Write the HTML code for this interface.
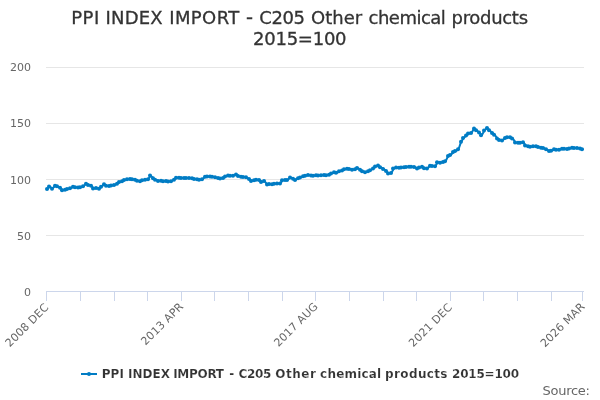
<!DOCTYPE html>
<html><head><meta charset="utf-8"><title>chart</title>
<style>
html,body{margin:0;padding:0;background:#fff;}
body{width:600px;height:400px;overflow:hidden;}
svg{display:block;font-family:"DejaVu Sans","Liberation Sans",sans-serif;}
</style></head><body>
<svg width="600" height="400" viewBox="0 0 600 400">
<rect x="0" y="0" width="600" height="400" fill="#FFFFFF"/>
<g class="grid"><path d="M 46 67.5 L 584 67.5" stroke="#E6E6E6" stroke-width="1"/><path d="M 46 123.5 L 584 123.5" stroke="#E6E6E6" stroke-width="1"/><path d="M 46 179.5 L 584 179.5" stroke="#E6E6E6" stroke-width="1"/><path d="M 46 235.5 L 584 235.5" stroke="#E6E6E6" stroke-width="1"/></g>
<g class="xaxis"><path d="M 46 291.5 L 584 291.5" stroke="#CCD6EB" stroke-width="1"/><path d="M 46.5 291 L 46.5 301" stroke="#CCD6EB" stroke-width="1"/><path d="M 80.5 291 L 80.5 301" stroke="#CCD6EB" stroke-width="1"/><path d="M 114.5 291 L 114.5 301" stroke="#CCD6EB" stroke-width="1"/><path d="M 147.5 291 L 147.5 301" stroke="#CCD6EB" stroke-width="1"/><path d="M 181.5 291 L 181.5 301" stroke="#CCD6EB" stroke-width="1"/><path d="M 214.5 291 L 214.5 301" stroke="#CCD6EB" stroke-width="1"/><path d="M 248.5 291 L 248.5 301" stroke="#CCD6EB" stroke-width="1"/><path d="M 282.5 291 L 282.5 301" stroke="#CCD6EB" stroke-width="1"/><path d="M 315.5 291 L 315.5 301" stroke="#CCD6EB" stroke-width="1"/><path d="M 349.5 291 L 349.5 301" stroke="#CCD6EB" stroke-width="1"/><path d="M 383.5 291 L 383.5 301" stroke="#CCD6EB" stroke-width="1"/><path d="M 416.5 291 L 416.5 301" stroke="#CCD6EB" stroke-width="1"/><path d="M 450.5 291 L 450.5 301" stroke="#CCD6EB" stroke-width="1"/><path d="M 483.5 291 L 483.5 301" stroke="#CCD6EB" stroke-width="1"/><path d="M 517.5 291 L 517.5 301" stroke="#CCD6EB" stroke-width="1"/><path d="M 551.5 291 L 551.5 301" stroke="#CCD6EB" stroke-width="1"/><path d="M 582.5 291 L 582.5 301" stroke="#CCD6EB" stroke-width="1"/></g>
<g class="series"><path d="M 47.29 188.90 L 49.88 186.60 L 52.47 188.70 L 55.05 185.80 L 57.64 186.30 L 60.23 187.80 L 62.81 190.20 L 65.40 189.70 L 67.99 188.90 L 70.57 188.25 L 73.16 186.80 L 75.75 187.25 L 78.33 187.40 L 80.92 187.25 L 83.50 186.30 L 86.09 183.80 L 88.68 184.90 L 91.26 185.82 L 93.85 188.55 L 96.44 188.00 L 99.02 188.80 L 101.61 186.75 L 104.20 184.25 L 106.78 185.75 L 109.37 185.90 L 111.96 185.50 L 114.54 185.10 L 117.13 183.80 L 119.72 182.00 L 122.30 181.30 L 124.89 179.90 L 127.48 179.25 L 130.06 179.10 L 132.65 179.25 L 135.24 179.70 L 137.82 180.75 L 140.41 181.20 L 143.00 180.20 L 145.58 179.75 L 148.17 179.30 L 150.75 175.60 L 153.34 178.30 L 155.93 179.75 L 158.51 181.00 L 161.10 180.80 L 163.69 181.20 L 166.27 181.00 L 168.86 181.40 L 171.45 181.20 L 174.03 179.75 L 176.62 177.70 L 179.21 177.70 L 181.79 178.10 L 184.38 178.10 L 186.97 177.90 L 189.55 178.10 L 192.14 178.30 L 194.73 178.90 L 197.31 179.30 L 199.90 179.75 L 202.49 179.30 L 205.07 176.70 L 207.66 176.60 L 210.25 176.60 L 212.83 176.70 L 215.42 177.25 L 218.00 178.10 L 220.59 178.50 L 223.18 178.10 L 225.76 176.40 L 228.35 175.50 L 230.94 175.85 L 233.52 175.70 L 236.11 174.40 L 238.70 176.10 L 241.28 176.70 L 243.87 176.90 L 246.46 177.20 L 249.04 179.00 L 251.63 180.90 L 254.22 180.25 L 256.80 179.80 L 259.39 180.00 L 261.98 181.90 L 264.56 181.10 L 267.15 184.40 L 269.74 184.00 L 272.32 184.20 L 274.91 183.75 L 277.50 183.55 L 280.08 183.50 L 282.67 180.30 L 285.25 179.90 L 287.84 179.90 L 290.43 177.40 L 293.01 178.70 L 295.60 179.90 L 298.19 178.25 L 300.77 177.40 L 303.36 176.30 L 305.95 175.75 L 308.53 174.90 L 311.12 175.60 L 313.71 175.75 L 316.29 175.20 L 318.88 175.50 L 321.47 175.28 L 324.05 175.00 L 326.64 175.30 L 329.23 174.70 L 331.81 173.40 L 334.40 172.30 L 336.99 172.80 L 339.57 171.30 L 342.16 170.50 L 344.75 169.25 L 347.33 168.70 L 349.92 169.00 L 352.50 169.70 L 355.09 169.25 L 357.68 168.00 L 360.26 169.70 L 362.85 171.20 L 365.44 172.20 L 368.02 171.35 L 370.61 170.30 L 373.20 168.50 L 375.78 166.60 L 378.37 165.60 L 380.96 167.25 L 383.54 168.90 L 386.13 171.00 L 388.72 173.40 L 391.30 173.10 L 393.89 168.50 L 396.48 167.40 L 399.06 167.80 L 401.65 167.50 L 404.24 167.25 L 406.82 167.10 L 409.41 166.80 L 412.00 166.72 L 414.58 167.00 L 417.17 168.40 L 419.75 167.60 L 422.34 166.75 L 424.93 168.20 L 427.51 168.40 L 430.10 165.70 L 432.69 165.90 L 435.27 166.30 L 437.86 162.20 L 440.45 162.80 L 443.03 162.00 L 445.62 161.30 L 448.21 155.90 L 450.79 155.00 L 453.38 152.00 L 455.97 151.10 L 458.55 149.22 L 461.14 141.70 L 463.73 137.90 L 466.31 135.60 L 468.90 133.50 L 471.49 133.05 L 474.07 128.40 L 476.66 130.30 L 479.25 132.60 L 481.83 135.20 L 484.42 130.50 L 487.00 127.95 L 489.59 130.30 L 492.18 132.90 L 494.76 134.72 L 497.35 138.48 L 499.94 140.07 L 502.52 140.50 L 505.11 138.00 L 507.70 137.20 L 510.28 137.20 L 512.87 138.40 L 515.46 142.60 L 518.04 142.80 L 520.63 142.80 L 523.22 142.30 L 525.80 145.50 L 528.39 146.20 L 530.98 146.75 L 533.56 146.30 L 536.15 146.30 L 538.74 147.00 L 541.32 147.65 L 543.91 148.05 L 546.50 149.30 L 549.08 151.00 L 551.67 150.80 L 554.25 149.30 L 556.84 149.75 L 559.43 149.75 L 562.01 148.80 L 564.60 148.80 L 567.19 149.00 L 569.77 148.60 L 572.36 147.80 L 574.95 148.10 L 577.53 148.10 L 580.12 148.60 L 582.71 149.20" fill="none" stroke="#007CC4" stroke-width="2" stroke-linejoin="round" stroke-linecap="round"/>
<g fill="#007CC4"><circle cx="47.00" cy="188.90" r="2"/><circle cx="49.00" cy="186.60" r="2"/><circle cx="52.00" cy="188.70" r="2"/><circle cx="55.00" cy="185.80" r="2"/><circle cx="57.00" cy="186.30" r="2"/><circle cx="60.00" cy="187.80" r="2"/><circle cx="62.00" cy="190.20" r="2"/><circle cx="65.00" cy="189.70" r="2"/><circle cx="67.00" cy="188.90" r="2"/><circle cx="70.00" cy="188.25" r="2"/><circle cx="73.00" cy="186.80" r="2"/><circle cx="75.00" cy="187.25" r="2"/><circle cx="78.00" cy="187.40" r="2"/><circle cx="80.00" cy="187.25" r="2"/><circle cx="83.00" cy="186.30" r="2"/><circle cx="86.00" cy="183.80" r="2"/><circle cx="88.00" cy="184.90" r="2"/><circle cx="91.00" cy="185.82" r="2"/><circle cx="93.00" cy="188.55" r="2"/><circle cx="96.00" cy="188.00" r="2"/><circle cx="99.00" cy="188.80" r="2"/><circle cx="101.00" cy="186.75" r="2"/><circle cx="104.00" cy="184.25" r="2"/><circle cx="106.00" cy="185.75" r="2"/><circle cx="109.00" cy="185.90" r="2"/><circle cx="111.00" cy="185.50" r="2"/><circle cx="114.00" cy="185.10" r="2"/><circle cx="117.00" cy="183.80" r="2"/><circle cx="119.00" cy="182.00" r="2"/><circle cx="122.00" cy="181.30" r="2"/><circle cx="124.00" cy="179.90" r="2"/><circle cx="127.00" cy="179.25" r="2"/><circle cx="130.00" cy="179.10" r="2"/><circle cx="132.00" cy="179.25" r="2"/><circle cx="135.00" cy="179.70" r="2"/><circle cx="137.00" cy="180.75" r="2"/><circle cx="140.00" cy="181.20" r="2"/><circle cx="142.00" cy="180.20" r="2"/><circle cx="145.00" cy="179.75" r="2"/><circle cx="148.00" cy="179.30" r="2"/><circle cx="150.00" cy="175.60" r="2"/><circle cx="153.00" cy="178.30" r="2"/><circle cx="155.00" cy="179.75" r="2"/><circle cx="158.00" cy="181.00" r="2"/><circle cx="161.00" cy="180.80" r="2"/><circle cx="163.00" cy="181.20" r="2"/><circle cx="166.00" cy="181.00" r="2"/><circle cx="168.00" cy="181.40" r="2"/><circle cx="171.00" cy="181.20" r="2"/><circle cx="174.00" cy="179.75" r="2"/><circle cx="176.00" cy="177.70" r="2"/><circle cx="179.00" cy="177.70" r="2"/><circle cx="181.00" cy="178.10" r="2"/><circle cx="184.00" cy="178.10" r="2"/><circle cx="186.00" cy="177.90" r="2"/><circle cx="189.00" cy="178.10" r="2"/><circle cx="192.00" cy="178.30" r="2"/><circle cx="194.00" cy="178.90" r="2"/><circle cx="197.00" cy="179.30" r="2"/><circle cx="199.00" cy="179.75" r="2"/><circle cx="202.00" cy="179.30" r="2"/><circle cx="205.00" cy="176.70" r="2"/><circle cx="207.00" cy="176.60" r="2"/><circle cx="210.00" cy="176.60" r="2"/><circle cx="212.00" cy="176.70" r="2"/><circle cx="215.00" cy="177.25" r="2"/><circle cx="218.00" cy="178.10" r="2"/><circle cx="220.00" cy="178.50" r="2"/><circle cx="223.00" cy="178.10" r="2"/><circle cx="225.00" cy="176.40" r="2"/><circle cx="228.00" cy="175.50" r="2"/><circle cx="230.00" cy="175.85" r="2"/><circle cx="233.00" cy="175.70" r="2"/><circle cx="236.00" cy="174.40" r="2"/><circle cx="238.00" cy="176.10" r="2"/><circle cx="241.00" cy="176.70" r="2"/><circle cx="243.00" cy="176.90" r="2"/><circle cx="246.00" cy="177.20" r="2"/><circle cx="249.00" cy="179.00" r="2"/><circle cx="251.00" cy="180.90" r="2"/><circle cx="254.00" cy="180.25" r="2"/><circle cx="256.00" cy="179.80" r="2"/><circle cx="259.00" cy="180.00" r="2"/><circle cx="261.00" cy="181.90" r="2"/><circle cx="264.00" cy="181.10" r="2"/><circle cx="267.00" cy="184.40" r="2"/><circle cx="269.00" cy="184.00" r="2"/><circle cx="272.00" cy="184.20" r="2"/><circle cx="274.00" cy="183.75" r="2"/><circle cx="277.00" cy="183.55" r="2"/><circle cx="280.00" cy="183.50" r="2"/><circle cx="282.00" cy="180.30" r="2"/><circle cx="285.00" cy="179.90" r="2"/><circle cx="287.00" cy="179.90" r="2"/><circle cx="290.00" cy="177.40" r="2"/><circle cx="293.00" cy="178.70" r="2"/><circle cx="295.00" cy="179.90" r="2"/><circle cx="298.00" cy="178.25" r="2"/><circle cx="300.00" cy="177.40" r="2"/><circle cx="303.00" cy="176.30" r="2"/><circle cx="305.00" cy="175.75" r="2"/><circle cx="308.00" cy="174.90" r="2"/><circle cx="311.00" cy="175.60" r="2"/><circle cx="313.00" cy="175.75" r="2"/><circle cx="316.00" cy="175.20" r="2"/><circle cx="318.00" cy="175.50" r="2"/><circle cx="321.00" cy="175.28" r="2"/><circle cx="324.00" cy="175.00" r="2"/><circle cx="326.00" cy="175.30" r="2"/><circle cx="329.00" cy="174.70" r="2"/><circle cx="331.00" cy="173.40" r="2"/><circle cx="334.00" cy="172.30" r="2"/><circle cx="336.00" cy="172.80" r="2"/><circle cx="339.00" cy="171.30" r="2"/><circle cx="342.00" cy="170.50" r="2"/><circle cx="344.00" cy="169.25" r="2"/><circle cx="347.00" cy="168.70" r="2"/><circle cx="349.00" cy="169.00" r="2"/><circle cx="352.00" cy="169.70" r="2"/><circle cx="355.00" cy="169.25" r="2"/><circle cx="357.00" cy="168.00" r="2"/><circle cx="360.00" cy="169.70" r="2"/><circle cx="362.00" cy="171.20" r="2"/><circle cx="365.00" cy="172.20" r="2"/><circle cx="368.00" cy="171.35" r="2"/><circle cx="370.00" cy="170.30" r="2"/><circle cx="373.00" cy="168.50" r="2"/><circle cx="375.00" cy="166.60" r="2"/><circle cx="378.00" cy="165.60" r="2"/><circle cx="380.00" cy="167.25" r="2"/><circle cx="383.00" cy="168.90" r="2"/><circle cx="386.00" cy="171.00" r="2"/><circle cx="388.00" cy="173.40" r="2"/><circle cx="391.00" cy="173.10" r="2"/><circle cx="393.00" cy="168.50" r="2"/><circle cx="396.00" cy="167.40" r="2"/><circle cx="399.00" cy="167.80" r="2"/><circle cx="401.00" cy="167.50" r="2"/><circle cx="404.00" cy="167.25" r="2"/><circle cx="406.00" cy="167.10" r="2"/><circle cx="409.00" cy="166.80" r="2"/><circle cx="411.00" cy="166.72" r="2"/><circle cx="414.00" cy="167.00" r="2"/><circle cx="417.00" cy="168.40" r="2"/><circle cx="419.00" cy="167.60" r="2"/><circle cx="422.00" cy="166.75" r="2"/><circle cx="424.00" cy="168.20" r="2"/><circle cx="427.00" cy="168.40" r="2"/><circle cx="430.00" cy="165.70" r="2"/><circle cx="432.00" cy="165.90" r="2"/><circle cx="435.00" cy="166.30" r="2"/><circle cx="437.00" cy="162.20" r="2"/><circle cx="440.00" cy="162.80" r="2"/><circle cx="443.00" cy="162.00" r="2"/><circle cx="445.00" cy="161.30" r="2"/><circle cx="448.00" cy="155.90" r="2"/><circle cx="450.00" cy="155.00" r="2"/><circle cx="453.00" cy="152.00" r="2"/><circle cx="455.00" cy="151.10" r="2"/><circle cx="458.00" cy="149.22" r="2"/><circle cx="461.00" cy="141.70" r="2"/><circle cx="463.00" cy="137.90" r="2"/><circle cx="466.00" cy="135.60" r="2"/><circle cx="468.00" cy="133.50" r="2"/><circle cx="471.00" cy="133.05" r="2"/><circle cx="474.00" cy="128.40" r="2"/><circle cx="476.00" cy="130.30" r="2"/><circle cx="479.00" cy="132.60" r="2"/><circle cx="481.00" cy="135.20" r="2"/><circle cx="484.00" cy="130.50" r="2"/><circle cx="487.00" cy="127.95" r="2"/><circle cx="489.00" cy="130.30" r="2"/><circle cx="492.00" cy="132.90" r="2"/><circle cx="494.00" cy="134.72" r="2"/><circle cx="497.00" cy="138.48" r="2"/><circle cx="499.00" cy="140.07" r="2"/><circle cx="502.00" cy="140.50" r="2"/><circle cx="505.00" cy="138.00" r="2"/><circle cx="507.00" cy="137.20" r="2"/><circle cx="510.00" cy="137.20" r="2"/><circle cx="512.00" cy="138.40" r="2"/><circle cx="515.00" cy="142.60" r="2"/><circle cx="518.00" cy="142.80" r="2"/><circle cx="520.00" cy="142.80" r="2"/><circle cx="523.00" cy="142.30" r="2"/><circle cx="525.00" cy="145.50" r="2"/><circle cx="528.00" cy="146.20" r="2"/><circle cx="530.00" cy="146.75" r="2"/><circle cx="533.00" cy="146.30" r="2"/><circle cx="536.00" cy="146.30" r="2"/><circle cx="538.00" cy="147.00" r="2"/><circle cx="541.00" cy="147.65" r="2"/><circle cx="543.00" cy="148.05" r="2"/><circle cx="546.00" cy="149.30" r="2"/><circle cx="549.00" cy="151.00" r="2"/><circle cx="551.00" cy="150.80" r="2"/><circle cx="554.00" cy="149.30" r="2"/><circle cx="556.00" cy="149.75" r="2"/><circle cx="559.00" cy="149.75" r="2"/><circle cx="562.00" cy="148.80" r="2"/><circle cx="564.00" cy="148.80" r="2"/><circle cx="567.00" cy="149.00" r="2"/><circle cx="569.00" cy="148.60" r="2"/><circle cx="572.00" cy="147.80" r="2"/><circle cx="574.00" cy="148.10" r="2"/><circle cx="577.00" cy="148.10" r="2"/><circle cx="580.00" cy="148.60" r="2"/><circle cx="582.00" cy="149.20" r="2"/></g></g>
<text y="23.5" font-size="18px" fill="#333333" stroke="#333333" stroke-width="0.3"><tspan x="71.2" letter-spacing="0.5">PPI</tspan> <tspan x="105.5" letter-spacing="0.2">INDEX</tspan> <tspan x="169.2" letter-spacing="0.4">IMPORT</tspan> <tspan x="259.3" letter-spacing="-0.4">C205</tspan> <tspan x="311" letter-spacing="0">Other</tspan> <tspan x="368.5" letter-spacing="-0.5">chemical</tspan> <tspan x="451.5" letter-spacing="-0.3">products</tspan></text><text transform="translate(246.0 24.3) scale(1.08 1.1)" font-size="18px" fill="#333333" stroke="#333333" stroke-width="0.3">-</text><text x="299.7" y="44.5" text-anchor="middle" letter-spacing="-0.25" font-size="18px" fill="#333333" stroke="#333333" stroke-width="0.3">2015=100</text>
<g class="ylabels" font-size="11px" fill="#666666"><text x="31" y="70.5" text-anchor="end">200</text><text x="31" y="126.5" text-anchor="end">150</text><text x="31" y="183.5" text-anchor="end">100</text><text x="31" y="239.5" text-anchor="end">50</text><text x="31" y="295.5" text-anchor="end">0</text></g>
<g class="xlabels" font-size="11px" fill="#666666" letter-spacing="0.15"><text x="49.29" y="308.00" text-anchor="end" transform="rotate(-45 49.29 308.00)">2008 DEC</text><text x="184.09" y="307.20" text-anchor="end" transform="rotate(-45 184.09 307.20)">2013 APR</text><text x="318.59" y="307.10" text-anchor="end" transform="rotate(-45 318.59 307.10)">2017 AUG</text><text x="452.79" y="308.00" text-anchor="end" transform="rotate(-45 452.79 308.00)">2021 DEC</text><text x="585.51" y="307.20" text-anchor="end" transform="rotate(-45 585.51 307.20)">2026 MAR</text></g>
<g class="legend"><path d="M 81 374 L 97 374" stroke="#007CC4" stroke-width="2"/><circle cx="89" cy="374" r="2" fill="#007CC4"/>
<text y="378" font-size="12px" font-weight="bold" fill="#333333" stroke="#FFFFFF" stroke-width="0.16"><tspan x="101.8" letter-spacing="0">PPI</tspan> <tspan x="128" letter-spacing="0">INDEX</tspan> <tspan x="173.2" letter-spacing="-0.3">IMPORT</tspan> <tspan x="229.2" letter-spacing="0">-</tspan> <tspan x="238.4" letter-spacing="-0.3">C205</tspan> <tspan x="275.3" letter-spacing="0.5">Other</tspan> <tspan x="320.1" letter-spacing="0.2">chemical</tspan> <tspan x="385.1" letter-spacing="0.36">products</tspan> <tspan x="452" letter-spacing="-0.2">2015=100</tspan></text></g>
<text x="542.6" y="395" font-size="13px" letter-spacing="-0.3" fill="#666666">Source:</text>
</svg>
</body></html>
